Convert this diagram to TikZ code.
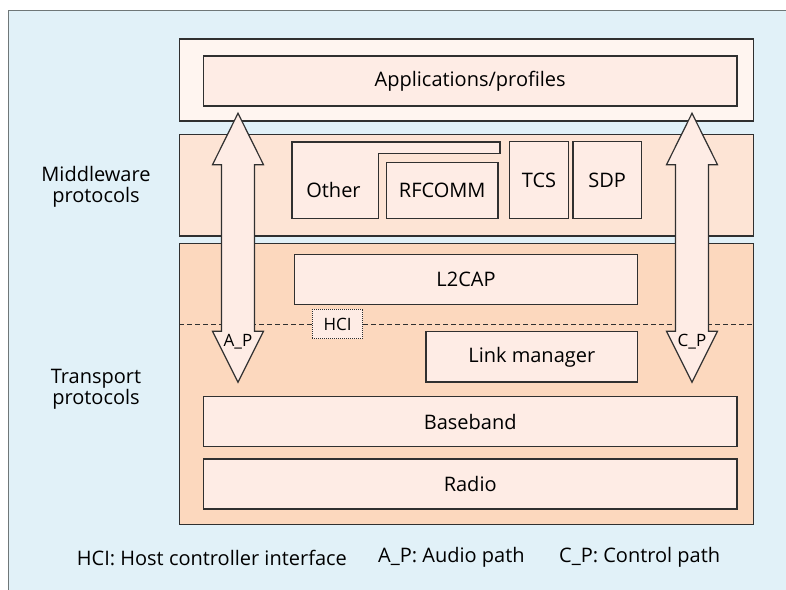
\documentclass[tikz,border=0pt]{standalone}
\usepackage{fontspec}
\setmainfont{Open Sans}
\definecolor{bgblue}{HTML}{E1F1F8}
\definecolor{framegray}{HTML}{6F7778}
\definecolor{appfill}{HTML}{FFF5F0}
\definecolor{midfill}{HTML}{FDE4D5}
\definecolor{tranfill}{HTML}{FCD8BE}
\definecolor{blockfill}{HTML}{FEECE5}
\definecolor{edge}{HTML}{303030}
\tikzset{
  layer/.style={draw=edge, line width=1.2pt, inner sep=0pt},
  block/.style={draw=edge, line width=1.2pt, fill=blockfill, inner sep=0pt, font=\fontsize{20}{21}\selectfont},
  side/.style={align=center, font=\fontsize{20}{21}\selectfont},
  key/.style={anchor=west, inner sep=0pt, font=\fontsize{20}{21}\selectfont},
  fatarrow/.style={draw=edge, line width=1.2pt, fill=blockfill},
  small/.style={inner sep=1pt, font=\fontsize{17}{19}\selectfont}
}
\begin{document}
\begin{tikzpicture}[x=1pt,y=-1pt]
\useasboundingbox (0,0) rectangle (786,589);
\draw[framegray, line width=1.3pt, fill=bgblue] (8.3,10.5) rectangle (800,600);
\node[layer, fill=appfill, minimum width=574.4pt, minimum height=82pt] (apptier) at (466.5,80) {};
\node[layer, fill=midfill, minimum width=574.4pt, minimum height=101.3pt] (midtier) at (466.5,185.3) {};
\node[layer, fill=tranfill, minimum width=574.4pt, minimum height=281pt] (trantier) at (466.5,383.8) {};
\node[block, minimum width=533.7pt, minimum height=50pt] (apps) at (470.2,81) {Applications/profiles};
\draw[draw=edge, line width=1.2pt, fill=blockfill] (292,142) -- (500,142) -- (500,153.3) -- (378.3,153.3) -- (378.3,218.3) -- (292,218.3) -- cycle;
\node[font=\fontsize{20}{21}\selectfont] (other) at (333.5,190) {Other};
\node[block, minimum width=111.7pt, minimum height=56pt] (rfcomm) at (442.2,190.3) {RFCOMM};
\node[block, minimum width=58.6pt, minimum height=76.6pt] (tcs) at (539,180) {TCS};
\node[block, minimum width=68.3pt, minimum height=76.6pt] (sdp) at (607.2,180) {SDP};
\node[block, minimum width=343.4pt, minimum height=50pt] (l2cap) at (466,279.3) {L2CAP};
\coordinate (hcil) at (179.3,324.3);
\coordinate (hcir) at (753.7,324.3);
\draw[edge, line width=1pt, dash pattern=on 5pt off 3pt] (hcil) -- (hcir);
\node[draw=edge, line width=1pt, densely dotted, fill=blockfill, minimum width=50.4pt, minimum height=29.4pt, small] (hci) at (337.5,324) {HCI};
\node[block, minimum width=211.7pt, minimum height=50.3pt] (linkmgr) at (531.8,356.8) {Link manager};
\node[block, minimum width=533.7pt, minimum height=49.6pt] (baseband) at (470.2,421.5) {Baseband};
\node[block, minimum width=533.7pt, minimum height=50pt] (radio) at (470.2,484) {Radio};
\draw[fatarrow] (238,113.3) -- (263.5,164.7) -- (254.5,164.7) -- (254.5,331.3) -- (263.5,331.3) -- (238,382.3) -- (212.5,331.3) -- (221.5,331.3) -- (221.5,164.7) -- (212.5,164.7) -- cycle;
\draw[fatarrow] (692,113.3) -- (717.5,164.7) -- (708.5,164.7) -- (708.5,331.3) -- (717.5,331.3) -- (692,382.3) -- (666.5,331.3) -- (675.5,331.3) -- (675.5,164.7) -- (666.5,164.7) -- cycle;
\node[small] (ap) at (238,341.5) {A\_P};
\node[small] (cp) at (692,341.5) {C\_P};
\node[side] (midlabel) at (96,187) {Middleware\\protocols};
\node[side] (tranlabel) at (96,389.5) {Transport\\protocols};
\node[key] (hcikey) at (76.7,557.7) {HCI: Host controller interface};
\node[key] (apkey) at (378,557.7) {A\_P: Audio path};
\node[key] (cpkey) at (559,557.7) {C\_P: Control path};
\end{tikzpicture}
\end{document}
